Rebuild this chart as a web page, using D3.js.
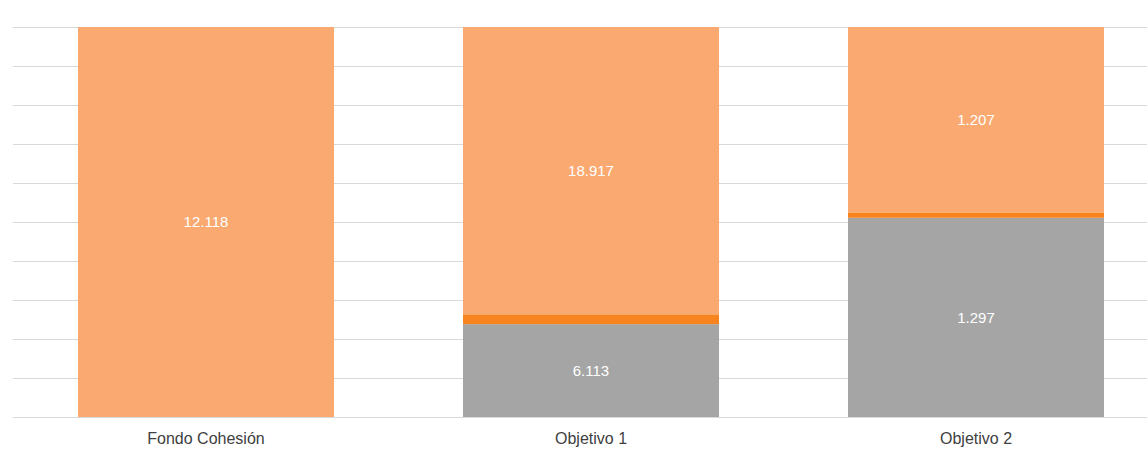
<!DOCTYPE html>
<html>
<head>
<meta charset="utf-8">
<script src="https://cdn.jsdelivr.net/npm/d3@7"></script>
<style>
  html, body { margin: 0; padding: 0; background: #fff; }
  svg { display: block; }
</style>
</head>
<body>
<svg id="chart" width="1147" height="450"></svg>
<script>
// Categories and stacked series (thousands), bottom to top
const categories = ["Fondo Cohesión", "Objetivo 1", "Objetivo 2"];
const seriesBase  = [0, 6.113, 1.297];       // grey segment
const seriesMid   = [0, 0.65, 0.035];        // thin orange segment
const seriesTop   = [12.118, 18.917, 1.207]; // light orange segment
const valueLabels = [["", "6.113", "1.297"], ["", "", ""], ["12.118", "18.917", "1.207"]];
const gridTicks = d3.range(0, 1.0001, 0.1);

const seriesKeys = ["base", "mid", "top"];
const colors = { base: "#A5A5A5", mid: "#F7841F", top: "#FAA970" };

const rows = categories.map((c, i) => ({
  cat: c, base: seriesBase[i], mid: seriesMid[i], top: seriesTop[i]
}));

const svg = d3.select("#chart");
const plot = { left: 13.5, right: 1168.5, top: 27, bottom: 417 };

const x = d3.scaleBand()
  .domain(categories)
  .range([plot.left, plot.right])
  .paddingInner(0.335)
  .paddingOuter(0.1675);

const y = d3.scaleLinear().domain([0, 1]).range([plot.bottom, plot.top]);

// Horizontal gridlines
svg.append("g")
  .selectAll("line")
  .data(gridTicks)
  .join("line")
  .attr("x1", 13).attr("x2", 1147)
  .attr("y1", d => Math.round(y(d)) + 0.5)
  .attr("y2", d => Math.round(y(d)) + 0.5)
  .attr("stroke", "#D9D9D9")
  .attr("stroke-width", 1);

// 100% stacked layout
const stack = d3.stack().keys(seriesKeys).offset(d3.stackOffsetExpand);
const layers = stack(rows);

const g = svg.append("g");
layers.forEach((layer, li) => {
  g.append("g")
    .selectAll("rect")
    .data(layer)
    .join("rect")
    .attr("x", d => x(d.data.cat))
    .attr("width", x.bandwidth())
    .attr("y", d => y(d[1]))
    .attr("height", d => Math.max(0, y(d[0]) - y(d[1])))
    .attr("fill", colors[layer.key]);

  g.append("g")
    .selectAll("text")
    .data(layer.map((d, i) => ({ d, label: valueLabels[li][i] })).filter(o => o.label))
    .join("text")
    .attr("x", o => x(o.d.data.cat) + x.bandwidth() / 2)
    .attr("y", o => (y(o.d[0]) + y(o.d[1])) / 2)
    .attr("dy", "0.35em")
    .attr("text-anchor", "middle")
    .attr("fill", "#FFFFFF")
    .attr("font-family", "'Liberation Sans', sans-serif")
    .attr("font-size", 15)
    .text(o => o.label);
});

// Category axis
const xAxis = svg.append("g")
  .attr("transform", `translate(0,${plot.bottom})`)
  .call(d3.axisBottom(x).tickSize(0).tickPadding(16));
xAxis.select(".domain").remove();
xAxis.selectAll("text")
  .attr("fill", "#404040")
  .attr("font-family", "'Liberation Sans', sans-serif")
  .attr("font-size", 16);
</script>
</body>
</html>
